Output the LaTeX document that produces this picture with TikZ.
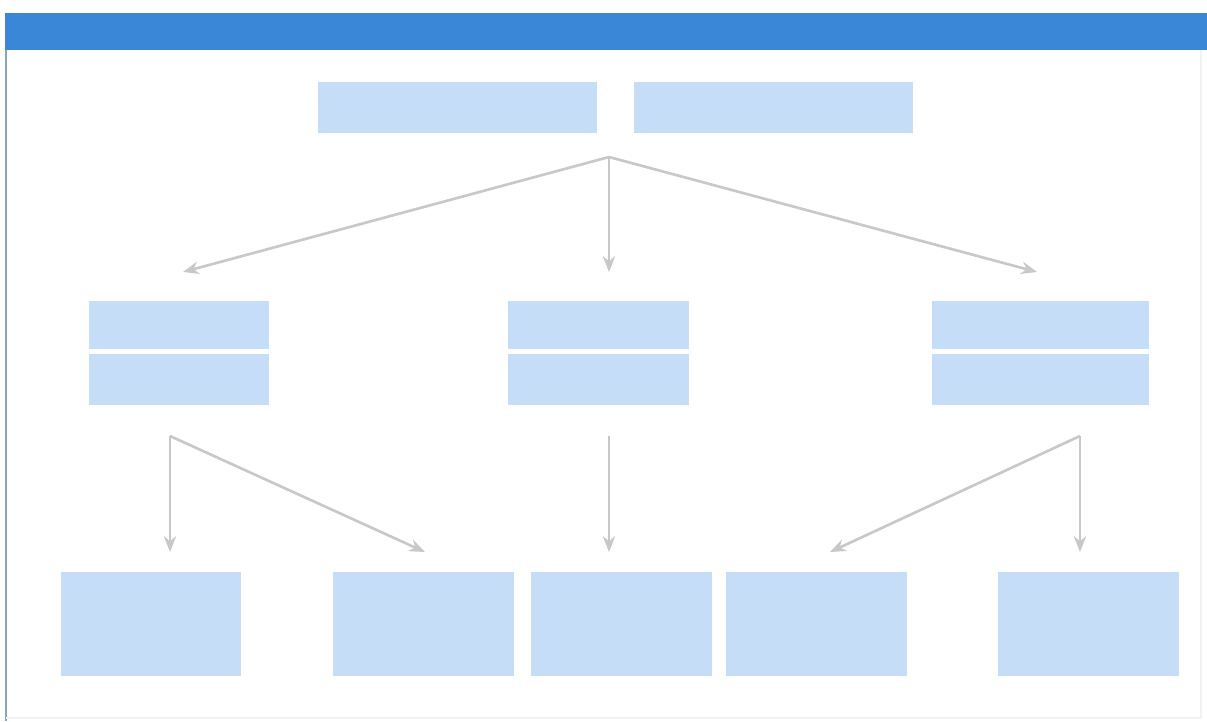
\documentclass[tikz,border=0pt]{standalone}
\usetikzlibrary{arrows.meta}
\definecolor{hdr}{HTML}{3A87D8}
\definecolor{boxc}{HTML}{C6DDF8}
\definecolor{arr}{HTML}{C8C8C8}
\definecolor{edge}{HTML}{8FA3B8}
\begin{document}
\begin{tikzpicture}[x=0.02cm,y=-0.02cm,
  bx/.style={fill=boxc,draw=none,inner sep=0pt,outer sep=0pt},
  conn/.style={draw=arr,line width=1.5pt,-{Stealth[length=9pt,width=7pt]}}]
\useasboundingbox (0,0) rectangle (1207,721);
\fill[white] (0,0) rectangle (1207,721);
% header and frame
\fill[hdr] (5,13) rectangle (1207,50);
\draw[edge,line width=0.9pt] (6,50) -- (6,721);
\draw[black!5,line width=0.6pt] (1201,50) -- (1201,718) -- (6,718);
% top boxes
\node[bx,minimum width=279*0.02cm,minimum height=51*0.02cm] (t1) at (457.5,107.5) {};
\node[bx,minimum width=279*0.02cm,minimum height=51*0.02cm] (t2) at (773.5,107.5) {};
% middle boxes (two stacked halves)
\node[bx,minimum width=180*0.02cm,minimum height=48*0.02cm] (m1a) at (179,325) {};
\node[bx,minimum width=180*0.02cm,minimum height=51*0.02cm] (m1b) at (179,379.5) {};
\node[bx,minimum width=181*0.02cm,minimum height=48*0.02cm] (m2a) at (598.5,325) {};
\node[bx,minimum width=181*0.02cm,minimum height=51*0.02cm] (m2b) at (598.5,379.5) {};
\node[bx,minimum width=217*0.02cm,minimum height=48*0.02cm] (m3a) at (1040.5,325) {};
\node[bx,minimum width=217*0.02cm,minimum height=51*0.02cm] (m3b) at (1040.5,379.5) {};
% bottom boxes
\node[bx,minimum width=180*0.02cm,minimum height=104*0.02cm] (b1) at (151,624) {};
\node[bx,minimum width=181*0.02cm,minimum height=104*0.02cm] (b2) at (423.5,624) {};
\node[bx,minimum width=181*0.02cm,minimum height=104*0.02cm] (b3) at (621.5,624) {};
\node[bx,minimum width=181*0.02cm,minimum height=104*0.02cm] (b4) at (816.5,624) {};
\node[bx,minimum width=181*0.02cm,minimum height=104*0.02cm] (b5) at (1088.5,624) {};
% junction coordinates
\coordinate (j0) at (609,157);
\coordinate (e1) at (183,272);
\coordinate (e2) at (609,272);
\coordinate (e3) at (1037,272);
\coordinate (j1) at (170,436);
\coordinate (j2) at (609,436);
\coordinate (j3) at (1080,436);
\coordinate (f1) at (170,552);
\coordinate (f2) at (425,552);
\coordinate (f3) at (609,552);
\coordinate (f4) at (830,552);
\coordinate (f5) at (1080,552);
% connectors
\draw[conn] (j0) -- (e1);
\draw[conn] (j0) -- (e2);
\draw[conn] (j0) -- (e3);
\draw[conn] (j1) -- (f1);
\draw[conn] (j1) -- (f2);
\draw[conn] (j2) -- (f3);
\draw[conn] (j3) -- (f4);
\draw[conn] (j3) -- (f5);
\end{tikzpicture}
\end{document}
